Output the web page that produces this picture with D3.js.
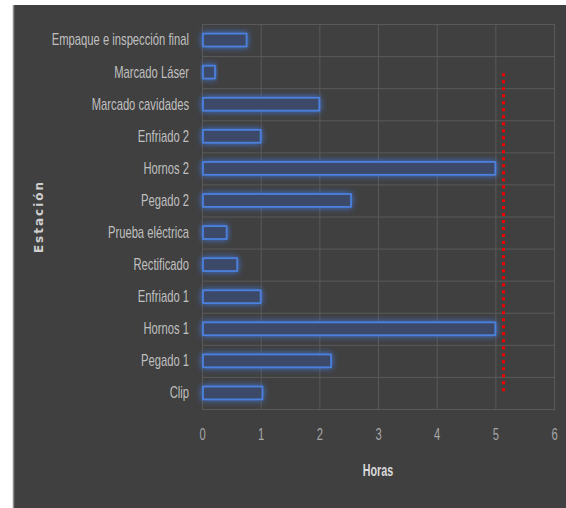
<!DOCTYPE html>
<html>
<head>
<meta charset="utf-8">
<script src="https://cdn.jsdelivr.net/npm/d3@7"></script>
<style>
  body { margin: 0; background: #ffffff; }
  svg { display: block; }
</style>
</head>
<body>
<svg id="canvas"></svg>
<script>
const estaciones = ['Empaque e inspección final', 'Marcado Láser', 'Marcado cavidades', 'Enfriado 2',
    'Hornos 2', 'Pegado 2', 'Prueba eléctrica', 'Rectificado', 'Enfriado 1', 'Hornos 1', 'Pegado 1', 'Clip'];
const horas = [0.76, 0.22, 2.0, 1.0, 5.0, 2.54, 0.42, 0.6, 1.0, 5.0, 2.2, 1.03];
const ticksX = [0, 1, 2, 3, 4, 5, 6];
const taktTime = 5.14;

const width = 566;
const height = 508;

const svg = d3.select('#canvas')
    .attr('width', width)
    .attr('height', height);

// squeeze text horizontally (no narrow font available)
const condense = (sel, k) => {
    sel.each(function () {
        const w = this.getComputedTextLength();
        d3.select(this).attr('textLength', w * k).attr('lengthAdjust', 'spacingAndGlyphs');
    });
};

// panel background
svg.append('rect')
    .attr('x', 13).attr('y', 5)
    .attr('width', width - 13).attr('height', height - 5)
    .attr('fill', '#404040');
svg.append('line')
    .attr('x1', 13.5).attr('x2', 13.5)
    .attr('y1', 5).attr('y2', height)
    .attr('stroke', '#8c8c8c').attr('stroke-width', 1.5);

const defs = svg.append('defs');
const glow = defs.append('filter').attr('id', 'glow')
    .attr('x', '-20%').attr('y', '-100%').attr('width', '140%').attr('height', '300%');
glow.append('feGaussianBlur').attr('in', 'SourceAlpha').attr('stdDeviation', 3).attr('result', 'blur');
glow.append('feFlood').attr('flood-color', '#4277e0').attr('flood-opacity', 1);
glow.append('feComposite').attr('in2', 'blur').attr('operator', 'in').attr('result', 'glowColor');
const merge = glow.append('feMerge');
merge.append('feMergeNode').attr('in', 'glowColor');
merge.append('feMergeNode').attr('in', 'SourceGraphic');

const plotTop = 24, plotBottom = 409;
const xScale = d3.scaleLinear().domain([0, 6]).range([202, 554]);
const yScale = d3.scaleBand().domain(estaciones).range([plotTop, plotBottom]).paddingInner(0.6).paddingOuter(0.3);

// gridlines
const grid = svg.append('g');
grid.selectAll('line.v')
    .data(ticksX)
    .enter()
    .append('line')
    .attr('class', 'v')
    .attr('x1', d => xScale(d) + 0.5).attr('x2', d => xScale(d) + 0.5)
    .attr('y1', plotTop).attr('y2', plotBottom)
    .attr('stroke', '#595959').attr('stroke-width', 1);
grid.selectAll('line.h')
    .data(d3.range(estaciones.length + 1))
    .enter()
    .append('line')
    .attr('class', 'h')
    .attr('x1', xScale(0)).attr('x2', xScale(6) + 1)
    .attr('y1', i => plotTop + i * (plotBottom - plotTop) / estaciones.length + 0.5)
    .attr('y2', i => plotTop + i * (plotBottom - plotTop) / estaciones.length + 0.5)
    .attr('stroke', '#595959').attr('stroke-width', 1);

// bars
svg.append('g')
    .selectAll('rect')
    .data(estaciones)
    .enter()
    .append('rect')
    .attr('x', xScale(0) + 1)
    .attr('y', d => yScale(d))
    .attr('width', (d, i) => xScale(horas[i]) - xScale(0) - 1)
    .attr('height', yScale.bandwidth())
    .attr('fill', '#3c4a68')
    .attr('stroke', '#4b80dc')
    .attr('stroke-width', 1.8)
    .attr('filter', 'url(#glow)');

// takt time line
svg.append('line')
    .attr('x1', xScale(taktTime)).attr('x2', xScale(taktTime))
    .attr('y1', yScale('Marcado Láser') + yScale.bandwidth() / 2 + 1)
    .attr('y2', yScale('Clip') + yScale.bandwidth() / 2 + 2)
    .attr('stroke', '#f00000')
    .attr('stroke-width', 3)
    .attr('stroke-dasharray', '3,4');

// y axis labels
const yAxis = d3.axisLeft(yScale).tickSize(0).tickPadding(13);
const gy = svg.append('g')
    .attr('transform', 'translate(' + xScale(0) + ',0)')
    .call(yAxis);
gy.select('.domain').remove();
gy.selectAll('text')
    .attr('font-family', '"Liberation Sans", sans-serif')
    .attr('font-size', 17)
    .attr('fill', '#bfbfbf')
    .call(condense, 0.66);

// x axis labels
const xAxis = d3.axisBottom(xScale).tickValues(ticksX).tickFormat(d3.format('d')).tickSize(0).tickPadding(19);
const gx = svg.append('g')
    .attr('transform', 'translate(0,' + plotBottom + ')')
    .call(xAxis);
gx.select('.domain').remove();
gx.selectAll('text')
    .attr('font-family', '"Liberation Sans", sans-serif')
    .attr('font-size', 17)
    .attr('fill', '#a6a6a6')
    .call(condense, 0.66);

// axis titles
svg.append('text')
    .attr('x', (xScale(0) + xScale(6)) / 2)
    .attr('y', 476)
    .attr('text-anchor', 'middle')
    .attr('font-family', '"Liberation Sans", sans-serif')
    .attr('font-size', 16.5)
    .attr('font-weight', 'bold')
    .attr('fill', '#d9d9d9')
    .text('Horas')
    .call(condense, 0.65);

svg.append('text')
    .attr('transform', 'translate(43,' + (plotTop + plotBottom) / 2 + ') rotate(-90)')
    .attr('text-anchor', 'middle')
    .attr('font-family', '"DejaVu Sans", sans-serif')
    .attr('font-size', 12)
    .attr('font-weight', 'bold')
    .attr('letter-spacing', 2)
    .attr('fill', '#cfcfcf')
    .text('Estación');
</script>
</body>
</html>
